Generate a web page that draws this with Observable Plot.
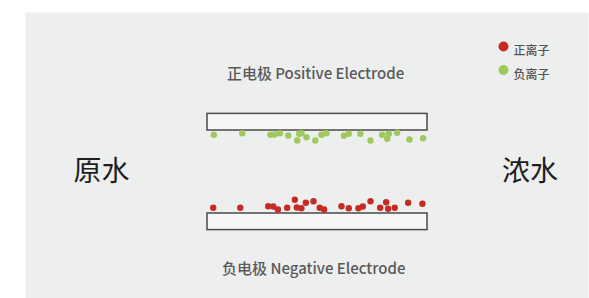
<!DOCTYPE html>
<html>
<head>
<meta charset="utf-8">
<script src="https://cdn.jsdelivr.net/npm/d3@7"></script>
<script src="https://cdn.jsdelivr.net/npm/@observablehq/plot@0.6"></script>
<style>
  html, body { margin: 0; padding: 0; background: #ffffff; }
  #chart svg { display: block; font-family: "Noto Sans CJK SC", "Noto Sans", sans-serif; }
</style>
</head>
<body>
<div id="chart"></div>
<script>
// x: position along the electrode (0 = left end, 100 = right end)
// y: position across the cell gap (0 = negative electrode surface, 100 = positive electrode surface)

// Electrodes
const electrodeNames = ["正电极 Positive Electrode", "负电极 Negative Electrode"];
const electrodeY1 = [100, -20];
const electrodeY2 = [120, 0];
const electrodeLabelX = [49.1, 48.3];
const electrodeLabelY = [167.5, -67.5];

// Negative ions (green), attracted to the positive electrode
const negIonX = [2.9, 15.8, 28.6, 30.5, 32.9, 36.7, 40.8, 41.7, 42.7, 45.0, 49.0, 51.8, 54.0, 62.0, 64.2, 69.5, 74.1, 79.4, 81.7, 82.4, 86.2, 91.8, 98.0];
const negIonY = [94.8, 96.7, 94.8, 95.2, 96.7, 94.0, 88.0, 96.0, 96.7, 91.9, 88.0, 94.8, 96.7, 93.6, 96.0, 96.0, 88.0, 94.8, 90.0, 96.0, 97.2, 89.2, 90.7];

// Positive ions (red), attracted to the negative electrode
const posIonX = [2.6, 14.9, 27.6, 29.9, 32.0, 36.2, 39.7, 40.6, 42.7, 44.7, 48.2, 51.0, 53.0, 60.9, 64.2, 68.6, 70.6, 74.1, 78.5, 81.2, 82.1, 85.1, 91.2, 97.7];
const posIonY = [6.9, 6.9, 8.8, 8.4, 4.8, 6.9, 16.5, 7.2, 6.4, 12.9, 14.8, 6.9, 4.8, 8.8, 6.4, 6.4, 8.4, 14.8, 6.9, 13.6, 5.7, 6.9, 12.9, 11.7];

// Side labels: feed water (left) and concentrate (right)
const sideLabels = ["原水", "浓水"];
const sideLabelX = [-48.2, 146.6];
const sideLabelY = [50, 50];

// Legend
const legendLabels = ["正离子", "负离子"];
const legendColors = ["#c62a24", "#9fc95c"];

const electrodes = electrodeNames.map((name, i) => ({name, y1: electrodeY1[i], y2: electrodeY2[i], lx: electrodeLabelX[i], ly: electrodeLabelY[i]}));
const negIons = negIonX.map((x, i) => ({x, y: negIonY[i]}));
const posIons = posIonX.map((x, i) => ({x, y: posIonY[i]}));
const sides = sideLabels.map((t, i) => ({t, x: sideLabelX[i], y: sideLabelY[i]}));

const chart = Plot.plot({
  width: 589,
  height: 298,
  marginTop: 12,
  marginLeft: 25,
  marginRight: 1,
  marginBottom: 0,
  style: {background: "#ffffff", fontFamily: "'Noto Sans CJK SC', sans-serif"},
  x: {domain: [0, 100], range: [207, 427], axis: null},
  y: {domain: [-20, 120], range: [229.6, 113.4], axis: null},
  marks: [
    Plot.frame({fill: "#edeeee", stroke: "none"}),
    Plot.rect(electrodes, {x1: () => 0, x2: () => 100, y1: "y1", y2: "y2", fill: "#f6f6f6", stroke: "#4a4a4a", strokeWidth: 1.5}),
    Plot.dot(negIons, {x: "x", y: "y", r: 3.2, fill: legendColors[1], stroke: "none"}),
    Plot.dot(posIons, {x: "x", y: "y", r: 3.2, fill: legendColors[0], stroke: "none"}),
    Plot.text(electrodes, {x: "lx", y: "ly", text: "name", fontSize: 15, fontWeight: 500, fill: "#5a5a5a", textAnchor: "middle"}),
    Plot.text(sides, {x: "x", y: "y", text: "t", fontSize: 28, fontWeight: 400, fill: "#1e1e1e", textAnchor: "middle"}),
    ...legendLabels.map((lab, i) => Plot.dot([lab], {frameAnchor: "top-left", dx: 478, dy: 34 + i * 23.5, r: 5, fill: legendColors[i], stroke: "none"})),
    ...legendLabels.map((lab, i) => Plot.text([lab], {frameAnchor: "top-left", dx: 488, dy: 34 + i * 23.5, text: d => d, fontSize: 12, fontWeight: 500, fill: "#555555", textAnchor: "start"}))
  ]
});
document.getElementById("chart").appendChild(chart);
</script>
</body>
</html>
